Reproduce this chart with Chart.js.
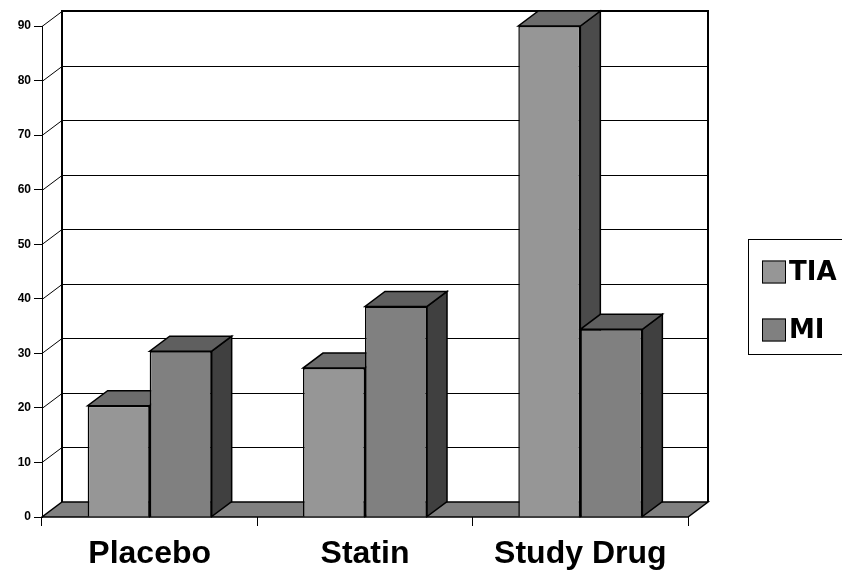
<!DOCTYPE html>
<html>
<head>
<meta charset="utf-8">
<script src="https://cdn.jsdelivr.net/npm/chart.js@4.4.1/dist/chart.umd.min.js"></script>
<style>
  html, body { margin: 0; padding: 0; background: #fff; overflow: hidden; }
  #wrap { position: relative; width: 842px; height: 574px; }
</style>
</head>
<body>
<div id="wrap"><canvas id="c"></canvas></div>
<script>
// Event counts per treatment arm
const categories = ['Placebo', 'Statin', 'Study Drug'];
const tiaValues = [20.4, 27.3, 90];
const miValues = [30.4, 38.6, 34.4];
const seriesNames = ['TIA', 'MI'];

// Value axis
const yMin = 0;
const yMax = 90;
const yStep = 10;

// Box depth of the 3-D projection (pixels)
const DX = 20;
const DY = -15;

const shades = [
  { front: '#969696', top: '#6c6c6c', side: '#4b4b4b' },
  { front: '#808080', top: '#5f5f5f', side: '#404040' }
];

const BASE_FONT = '"Liberation Sans", Arial, Helvetica, sans-serif';

// Back wall, floor and the top/side faces of every bar
const depthPlugin = {
  id: 'depth3d',
  beforeDatasetsDraw(chart) {
    const { ctx, chartArea: { left, right, top, bottom }, scales: { y } } = chart;
    ctx.save();
    ctx.lineJoin = 'miter';

    // gridlines on the back wall with their diagonals on the left wall
    ctx.strokeStyle = '#000';
    ctx.lineWidth = 1;
    y.ticks.forEach(t => {
      if (t.value === yMin) return;
      const py = Math.round(y.getPixelForValue(t.value)) + 0.5;
      ctx.beginPath();
      ctx.moveTo(left, py);
      ctx.lineTo(left + DX, py + DY);
      ctx.lineTo(right + DX, py + DY);
      ctx.stroke();
    });

    // back wall frame
    ctx.lineWidth = 2;
    ctx.beginPath();
    ctx.moveTo(left + DX, bottom + DY);
    ctx.lineTo(left + DX, top + DY);
    ctx.lineTo(right + DX, top + DY);
    ctx.lineTo(right + DX, bottom + DY);
    ctx.stroke();

    // floor
    ctx.beginPath();
    ctx.moveTo(left, bottom);
    ctx.lineTo(right, bottom);
    ctx.lineTo(right + DX, bottom + DY);
    ctx.lineTo(left + DX, bottom + DY);
    ctx.closePath();
    ctx.fillStyle = '#808080';
    ctx.fill();
    ctx.lineWidth = 1.5;
    ctx.strokeStyle = '#000';
    ctx.stroke();

    // top and side faces, series by series inside each category
    const metas = chart.data.datasets.map((d, i) => chart.getDatasetMeta(i));
    categories.forEach((c, j) => {
      metas.forEach((meta, i) => {
        const bar = meta.data[j];
        if (!bar) return;
        const p = bar.getProps(['x', 'y', 'base', 'width'], true);
        const l = p.x - p.width / 2;
        const r = p.x + p.width / 2;
        const yt = p.y;
        const yb = p.base;
        ctx.lineWidth = 1.5;
        ctx.strokeStyle = '#000';

        ctx.beginPath();
        ctx.moveTo(r, yt);
        ctx.lineTo(r + DX, yt + DY);
        ctx.lineTo(r + DX, yb + DY);
        ctx.lineTo(r, yb);
        ctx.closePath();
        ctx.fillStyle = shades[i].side;
        ctx.fill();
        ctx.stroke();

        ctx.beginPath();
        ctx.moveTo(l, yt);
        ctx.lineTo(r, yt);
        ctx.lineTo(r + DX, yt + DY);
        ctx.lineTo(l + DX, yt + DY);
        ctx.closePath();
        ctx.fillStyle = shades[i].top;
        ctx.fill();
        ctx.stroke();
      });
    });
    ctx.restore();
  }
};

// Boxed legend at the right edge
const boxLegendPlugin = {
  id: 'boxLegend',
  afterDraw(chart) {
    const { ctx } = chart;
    ctx.save();
    ctx.strokeStyle = '#000';
    ctx.lineWidth = 1;
    ctx.strokeRect(748.5, 239.5, 200, 115);
    ctx.font = 'bold 26px "DejaVu Sans", ' + BASE_FONT;
    ctx.textBaseline = 'middle';
    ctx.textAlign = 'left';
    chart.data.datasets.forEach((ds, i) => {
      const cy = 272 + i * 58;
      ctx.fillStyle = ds.backgroundColor;
      ctx.fillRect(762, cy - 11.5, 24, 23);
      ctx.strokeRect(762.5, cy - 11, 23, 22);
      ctx.fillStyle = '#000';
      ctx.fillText(ds.label, 789, cy + 1);
    });
    ctx.restore();
  }
};

new Chart(document.getElementById('c'), {
  type: 'bar',
  data: {
    labels: categories,
    datasets: [
      {
        label: seriesNames[0],
        data: tiaValues,
        backgroundColor: shades[0].front,
        borderColor: '#000',
        borderWidth: 1.5,
        categoryPercentage: 0.576,
        barPercentage: 1.0
      },
      {
        label: seriesNames[1],
        data: miValues,
        backgroundColor: shades[1].front,
        borderColor: '#000',
        borderWidth: 1.5,
        categoryPercentage: 0.576,
        barPercentage: 1.0
      }
    ]
  },
  options: {
    responsive: true,
    maintainAspectRatio: false,
    animation: false,
    layout: { padding: { left: 0, top: 26, right: 154, bottom: 0 } },
    plugins: {
      legend: { display: false },
      tooltip: { enabled: false }
    },
    scales: {
      x: {
        grid: {
          offset: true,
          drawOnChartArea: false,
          drawTicks: true,
          tickLength: 9,
          color: '#000',
          lineWidth: 1
        },
        border: { display: false },
        ticks: {
          color: '#000',
          padding: 9,
          font: { family: BASE_FONT, size: 32, weight: 'bold' }
        },
        afterFit(scale) { scale.height = 57; }
      },
      y: {
        min: yMin,
        max: yMax,
        ticks: {
          stepSize: yStep,
          color: '#000',
          padding: 3,
          font: { family: BASE_FONT, size: 12, weight: 'bold' }
        },
        grid: {
          drawOnChartArea: false,
          drawTicks: true,
          tickLength: 8,
          color: '#000',
          lineWidth: 1
        },
        border: { display: true, color: '#000', width: 1 },
        afterFit(scale) { scale.width = 42; }
      }
    }
  },
  plugins: [depthPlugin, boxLegendPlugin]
});
</script>
</body>
</html>
